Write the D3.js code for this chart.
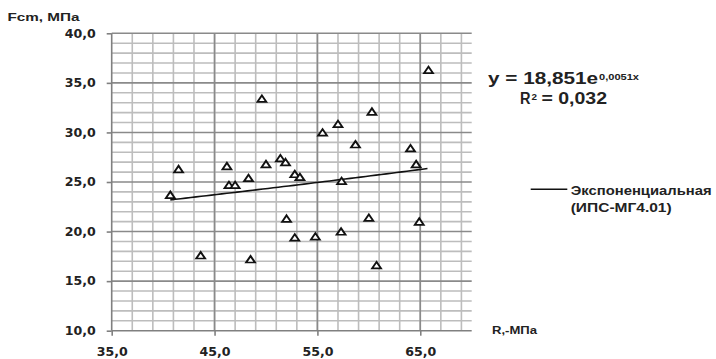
<!DOCTYPE html>
<html><head><meta charset="utf-8">
<script src="https://cdn.jsdelivr.net/npm/d3@7"></script>
<style>
html,body{margin:0;padding:0;background:#fff;}
svg{display:block;}
</style></head>
<body>
<svg id="chart" width="716" height="359"></svg>
<script>
// ---- data ----
const rValues   = [40.7, 41.5, 43.65, 46.2, 46.4, 47.0, 48.3, 48.5, 49.6, 50.0, 51.4, 51.9, 52.0, 52.8, 52.8, 53.3, 54.8, 55.5, 57.0, 57.3, 57.35, 58.7, 60.0, 60.3, 60.75, 64.05, 64.6, 64.9, 65.8];
const fcmValues = [23.6, 26.2, 17.5, 26.5, 24.6, 24.6, 25.3, 17.1, 33.3, 26.7, 27.3, 26.9, 21.2, 25.7, 19.3, 25.4, 19.4, 29.9, 30.75, 19.9, 25.0, 28.7, 21.3, 32.0, 16.5, 28.3, 26.7, 20.9, 36.2];
const xTickValues = [35, 45, 55, 65];
const yTickValues = [10, 15, 20, 25, 30, 35, 40];
const trendA = 18.851, trendB = 0.0051;
const xLabel = "R,-МПа", yLabel = "Fcm, МПа";
const legendLines = ["Экспоненциальная", "(ИПС-МГ4.01)"];

const svg = d3.select("#chart");
const x = d3.scaleLinear().domain([35, 70]).range([111.7, 471.7]);
const y = d3.scaleLinear().domain([10, 40]).range([330.7, 33.3]);
const fmt = v => d3.format(".1f")(v).replace(".", ",");

// minor grid
const g = svg.append("g");
g.selectAll("line.vmin").data(d3.range(37, 70, 2)).join("line")
  .attr("x1", d => x(d)).attr("x2", d => x(d)).attr("y1", y(40)).attr("y2", y(10))
  .attr("stroke", "#bdbdbd").attr("stroke-width", 1.6);
g.selectAll("line.hmin").data(d3.range(11, 40).filter(v => v % 5 !== 0)).join("line")
  .attr("x1", x(35)).attr("x2", x(70)).attr("y1", d => y(d)).attr("y2", d => y(d))
  .attr("stroke", "#bdbdbd").attr("stroke-width", 1.6);
// major grid
g.selectAll("line.vmaj").data([45, 55, 65]).join("line")
  .attr("x1", d => x(d)).attr("x2", d => x(d)).attr("y1", y(40)).attr("y2", y(10))
  .attr("stroke", "#8a8a8a").attr("stroke-width", 1.6);
g.selectAll("line.hmaj").data([15, 20, 25, 30, 35, 40]).join("line")
  .attr("x1", x(35)).attr("x2", x(70)).attr("y1", d => y(d)).attr("y2", d => y(d))
  .attr("stroke", "#8a8a8a").attr("stroke-width", 1.6);

// axes
const yAxis = d3.axisLeft(y).tickValues(yTickValues).tickFormat(fmt).tickSize(5).tickPadding(11);
const xAxis = d3.axisBottom(x).tickValues(xTickValues).tickFormat(fmt).tickSize(5).tickPadding(12);
const ya = svg.append("g").attr("transform", `translate(${x(35)},0)`).call(yAxis);
const xa = svg.append("g").attr("transform", `translate(0,${y(10)})`).call(xAxis);
[ya, xa].forEach(a => {
  a.select(".domain").attr("stroke", "#808080").attr("stroke-width", 1.6);
  a.selectAll(".tick line").attr("stroke", "#808080").attr("stroke-width", 1.6);
  a.selectAll(".tick text").attr("fill", "#222").style("font-family", "DejaVu Sans")
    .style("font-weight", "bold").style("font-size", "12px")
    .attr("textLength", 31).attr("lengthAdjust", "spacingAndGlyphs");
});
xa.select(".domain").attr("d", `M${x(35)},0H${x(70)}`);
ya.select(".domain").attr("d", `M0,${y(40)}V${y(10)}`);

// trend line
const trendX = d3.range(d3.min(rValues), d3.max(rValues) + 0.01, 0.5);
const line = d3.line().x(d => x(d)).y(d => y(trendA * Math.exp(trendB * d)));
svg.append("path").datum(trendX).attr("d", line).attr("fill", "none")
  .attr("stroke", "#111").attr("stroke-width", 1.6);

// markers
const tri = d3.symbol(d3.symbolTriangle, 34);
svg.selectAll("path.pt").data(rValues.map((r, i) => [r, fcmValues[i]])).join("path")
  .attr("transform", d => `translate(${x(d[0])},${y(d[1])}) scale(1,0.85)`)
  .attr("d", tri).attr("fill", "#fff").attr("stroke", "#111").attr("stroke-width", 2);

// axis titles
const txt = (s, px, py, size, len, weight) => svg.append("text").text(s)
  .attr("x", px).attr("y", py).attr("fill", "#222")
  .style("font-family", "Liberation Sans").style("font-size", size + "px")
  .style("font-weight", weight || "bold")
  .attr("textLength", len).attr("lengthAdjust", "spacingAndGlyphs");
txt(yLabel, 7.5, 21, 11, 72);
txt(xLabel, 492, 334, 10, 45);

// equation
txt("y = 18,851e", 488, 83.5, 16, 110);
txt("0,0051x", 599, 80, 9, 40);
txt("R", 520, 104.3, 16, 10.5);
txt("2", 531.5, 100, 9, 5.5);
txt("= 0,032", 541.5, 104.3, 16, 65.5);

// legend
svg.append("line").attr("x1", 530.7).attr("x2", 567.3).attr("y1", 189.3).attr("y2", 189.3)
  .attr("stroke", "#111").attr("stroke-width", 1.6);
txt(legendLines[0], 570.7, 194.5, 13, 141);
txt(legendLines[1], 570.7, 211.7, 13, 101);
</script>
</body></html>
